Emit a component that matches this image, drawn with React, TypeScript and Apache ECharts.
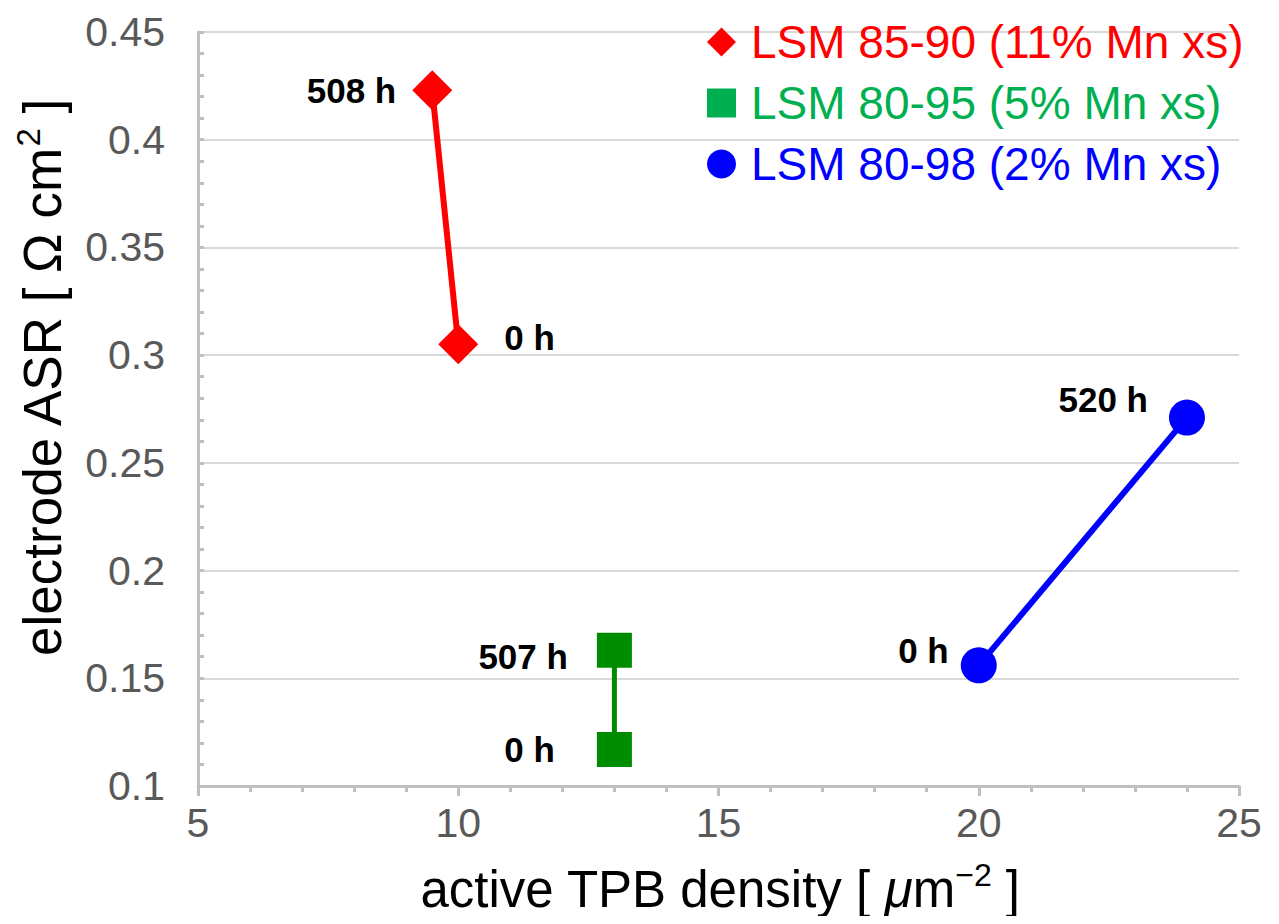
import React, { useEffect, useRef } from "react";
import * as echarts from "echarts";

const seriesNames = [
  "LSM 85-90 (11% Mn xs)",
  "LSM 80-95 (5% Mn xs)",
  "LSM 80-98 (2% Mn xs)",
];
const tpb85 = [9.5, 10.0];
const asr85 = [0.423, 0.305];
const hours85 = ["508 h", "0 h"];
const tpb80_95 = [13.0, 13.0];
const asr80_95 = [0.163, 0.117];
const hours80_95 = ["507 h", "0 h"];
const tpb80_98 = [20.0, 24.0];
const asr80_98 = [0.156, 0.271];
const hours80_98 = ["0 h", "520 h"];

const FONT = "'Liberation Sans', Arial, Helvetica, sans-serif";

export default function App() {
  const ref = useRef<HTMLDivElement>(null);
  useEffect(() => {
    if (!ref.current) return;
    const chart = echarts.init(ref.current, undefined, { renderer: "svg" });

    const labelFmt = (p: any) => p.name;
    const lbl = (distance: number, position: string, dy: number) => ({
      show: true,
      position,
      distance,
      offset: [0, dy],
      fontFamily: FONT,
      fontWeight: "bold",
      fontSize: 35,
      color: "#000",
      formatter: labelFmt,
    });

    const build = (xs: number[], ys: number[], hs: string[], labels: any[]) =>
      xs.map((x, i) => ({ value: [x, ys[i]], name: hs[i], label: labels[i] }));

    const option: any = {
      animation: false,
      textStyle: { fontFamily: FONT },
      grid: { left: 198, right: 40, top: 32, bottom: 138, containLabel: false },
      xAxis: {
        type: "value",
        min: 5,
        max: 25,
        interval: 5,
        axisLine: { show: true, lineStyle: { color: "#bfbfbf", width: 3 } },
        axisTick: { show: true, inside: false, length: 10, lineStyle: { color: "#bfbfbf", width: 3 } },
        minorTick: { show: true, splitNumber: 5, length: 6, lineStyle: { color: "#bfbfbf", width: 3 } },
        splitLine: { show: false },
        axisLabel: { fontSize: 41, color: "#595959", margin: 16, fontFamily: FONT },
      },
      yAxis: {
        type: "value",
        min: 0.1,
        max: 0.45,
        interval: 0.05,
        axisLine: { show: true, lineStyle: { color: "#bfbfbf", width: 3 } },
        axisTick: { show: true, inside: true, length: 6, lineStyle: { color: "#bfbfbf", width: 3 } },
        minorTick: { show: true, splitNumber: 5, length: 6, lineStyle: { color: "#bfbfbf", width: 3 } },
        splitLine: { show: true, lineStyle: { color: "#d9d9d9", width: 2 } },
        axisLabel: {
          fontSize: 41,
          color: "#595959",
          margin: 33,
          fontFamily: FONT,
          formatter: (v: number) => String(+v.toFixed(2)),
        },
      },
      legend: {
        orient: "vertical",
        left: 702,
        top: 14,
        itemWidth: 29,
        itemHeight: 29,
        itemGap: 15,
        selectedMode: false,
        textStyle: { fontSize: 46, lineHeight: 46, fontFamily: FONT, padding: [0, 0, 0, 10] },
        data: [
          { name: seriesNames[0], icon: "diamond", itemStyle: { color: "#ff0000" }, textStyle: { color: "#ff0000" } },
          { name: seriesNames[1], icon: "rect", itemStyle: { color: "#00b050" }, textStyle: { color: "#00b050" } },
          { name: seriesNames[2], icon: "circle", itemStyle: { color: "#0000ff" }, textStyle: { color: "#0000ff" } },
        ],
      },
      series: [
        {
          name: seriesNames[0],
          type: "line",
          symbol: "diamond",
          symbolSize: 40,
          itemStyle: { color: "#ff0000" },
          lineStyle: { color: "#ff0000", width: 6 },
          label: { show: true, formatter: labelFmt },
          data: build(tpb85, asr85, hours85, [lbl(16, "left", 0), lbl(26, "right", -7)]),
        },
        {
          name: seriesNames[1],
          type: "line",
          symbol: "rect",
          symbolSize: 35,
          itemStyle: { color: "#008c00" },
          lineStyle: { color: "#008c00", width: 5 },
          label: { show: true, formatter: labelFmt },
          data: build(tpb80_95, asr80_95, hours80_95, [lbl(29, "left", 6), lbl(42, "left", 0)]),
        },
        {
          name: seriesNames[2],
          type: "line",
          symbol: "circle",
          symbolSize: 36,
          itemStyle: { color: "#0000ff" },
          lineStyle: { color: "#0000ff", width: 6 },
          label: { show: true, formatter: labelFmt },
          data: build(tpb80_98, asr80_98, hours80_98, [lbl(12, "left", -15), lbl(21, "left", -18)]),
        },
      ],
      graphic: [
        {
          type: "text",
          x: 720,
          y: 889,
          style: {
            text: "{a|active TPB density [ }{i|μ}{a|m}{s|−2}{a| ]}",
            align: "center",
            verticalAlign: "middle",
            rich: {
              a: { fontSize: 51, lineHeight: 60, fontFamily: FONT, fill: "#000" },
              i: { fontSize: 51, lineHeight: 60, fontFamily: FONT, fontStyle: "italic", fill: "#000" },
              s: { fontSize: 32, lineHeight: 32, verticalAlign: "top", fontFamily: FONT, fill: "#000" },
            },
          },
        },
        {
          type: "text",
          x: 42,
          y: 378,
          rotation: Math.PI / 2,
          style: {
            text: "{a|electrode ASR [ Ω cm}{s|2}{a| ]}",
            align: "center",
            verticalAlign: "middle",
            rich: {
              a: { fontSize: 53, lineHeight: 60, fontFamily: FONT, fill: "#000" },
              s: { fontSize: 33, lineHeight: 33, verticalAlign: "top", fontFamily: FONT, fill: "#000" },
            },
          },
        },
      ],
    };
    chart.setOption(option);
    return () => chart.dispose();
  }, []);
  return <div ref={ref} style={{ width: 1279, height: 924, margin: -8 }} />;
}
